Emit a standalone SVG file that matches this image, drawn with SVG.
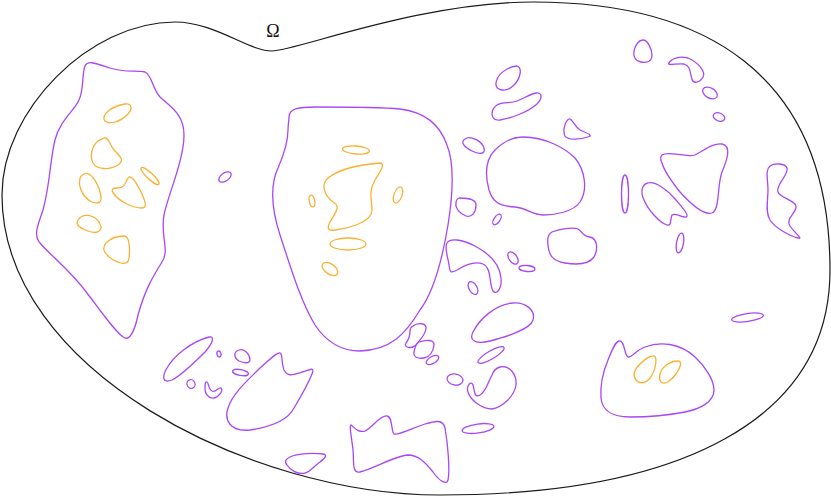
<svg xmlns="http://www.w3.org/2000/svg" width="831" height="498" viewBox="0 0 831 498">
<style>
.b{fill:none;stroke:#1a1a1a;stroke-width:1.2}
.p{fill:none;stroke:#a946f7;stroke-width:1.3}
.o{fill:none;stroke:#fbb031;stroke-width:1.3}
.t{font-family:"Liberation Serif","DejaVu Serif",serif;font-size:18px;fill:#111}
</style>
<rect width="831" height="498" fill="#fff"/>
<g id="domain">
<path class="b" d="M 272,51 C 295,51 420,2 533,2 C 700,2 830,70 830,270 C 830,420 680,495 440,495 C 250,495 2,370 2,195 C 2,110 90,22 175,22 C 215,22 248,51 272,51 Z"/>
<text class="t" x="273" y="37" text-anchor="middle">Ω</text>
</g>
<g id="left-blob">
<path class="p" d="M 85,66 C 88,60 95,63 110,68 C 125,73 135,70 145,72 C 152,75 152,88 160,97 C 172,108 184,115 184,135 C 184,160 168,195 164,215 C 160,235 170,250 162,262 C 152,278 145,290 138,315 C 135,330 130,340 125,338 C 118,336 100,310 87,293 C 70,270 50,255 40,243 C 33,235 38,225 43,210 C 50,185 50,160 55,140 C 60,120 75,110 79,100 C 84,90 82,72 85,66 Z"/>
<path class="o" d="M 105,121 C 100,115 112,106 125,104 C 133,103 132,110 128,114 C 120,122 110,125 105,121 Z"/>
<path class="o" d="M 104,138 C 108,136 110,145 114,150 C 120,156 125,160 118,165 C 110,170 97,170 93,163 C 89,155 93,145 98,141 C 101,139 102,139 104,138 Z"/>
<path class="o" d="M 84,174 C 92,170 100,188 101,197 C 102,204 95,204 90,201 C 82,196 78,185 80,179 C 80,176 82,175 84,174 Z"/>
<ellipse class="o" cx="150" cy="176" rx="12" ry="3" transform="rotate(43 150 176)"/>
<path class="o" d="M 128,178 C 131,174 136,182 140,190 C 145,200 148,208 142,208 C 133,208 120,202 114,194 C 110,189 113,188 118,188 C 124,188 125,184 128,178 Z"/>
<path class="o" d="M 78,220 C 83,212 96,215 100,224 C 104,232 95,234 88,231 C 80,228 75,225 78,220 Z"/>
<path class="o" d="M 124,236 C 130,236 130,250 129,258 C 128,266 120,264 112,259 C 103,253 102,248 106,243 C 111,238 118,236 124,236 Z"/>
</g>
<g id="small-a">
<ellipse class="p" cx="225" cy="177" rx="7" ry="4" transform="rotate(-35 225 177)"/>
</g>
<g id="middle-blob">
<path class="p" d="M 289,117 C 289,108 300,107 315,107 C 350,107 380,107 400,109 C 425,112 440,125 447,145 C 455,165 452,200 448,225 C 443,255 435,290 420,310 C 405,335 390,350 360,351 C 340,351 325,340 315,325 C 300,300 290,265 280,235 C 272,210 270,185 278,168 C 285,152 288,140 288,130 C 288,125 289,120 289,117 Z"/>
<ellipse class="o" cx="356" cy="150" rx="13.5" ry="4" transform="rotate(5 356 150)"/>
<path class="o" d="M 380,163 C 386,163 380,172 375,180 C 368,192 372,200 372,210 C 372,222 350,228 335,230 C 323,232 330,222 333,217 C 337,210 340,206 333,202 C 325,196 320,185 328,178 C 338,170 355,165 380,163 Z"/>
<ellipse class="o" cx="312" cy="201" rx="2.7" ry="6" transform="rotate(-10 312 201)"/>
<ellipse class="o" cx="398" cy="195" rx="4" ry="8.5" transform="rotate(20 398 195)"/>
<ellipse class="o" cx="348" cy="244" rx="18" ry="6"/>
<ellipse class="o" cx="330" cy="269" rx="9" ry="5" transform="rotate(35 330 269)"/>
</g>
<g id="upper-right">
<path class="p" d="M 643,40 C 648,40 652,50 652,55 C 652,62 646,63 641,62 C 635,61 633,56 634,51 C 635,45 639,40 643,40 Z"/>
<path class="p" d="M 669,63 C 672,58 680,56 688,58 C 698,62 706,72 703,77 C 700,83 693,84 692,79 C 690,74 691,66 684,64 C 678,63 666,66 669,63 Z"/>
<ellipse class="p" cx="710" cy="93" rx="8" ry="5" transform="rotate(30 710 93)"/>
<ellipse class="p" cx="719" cy="117" rx="6" ry="4" transform="rotate(20 719 117)"/>
<path class="p" d="M 517,66 C 523,68 520,80 513,86 C 505,93 495,90 496,83 C 497,75 506,67 517,66 Z"/>
<path class="p" d="M 536,93 C 542,92 543,98 537,104 C 528,112 512,118 500,120 C 490,121 490,110 497,105 C 503,101 510,104 517,101 C 525,98 530,94 536,93 Z"/>
<path class="p" d="M 569,119 C 572,118 574,126 580,130 C 586,133 594,135 588,137 C 582,139 568,141 565,136 C 562,130 566,120 569,119 Z"/>
<path class="p" d="M 465,139 C 470,135 482,141 484,148 C 486,155 478,154 472,151 C 464,147 460,142 465,139 Z"/>
<path class="p" d="M 523,137 C 545,137 565,148 575,158 C 585,170 588,190 580,202 C 573,212 555,215 543,215 C 532,215 527,208 515,207 C 500,206 493,203 489,190 C 485,175 485,160 495,150 C 503,142 512,137 523,137 Z"/>
<path class="p" d="M 460,198 C 466,198 476,199 476,205 C 476,212 472,218 466,216 C 460,214 455,208 456,203 C 456,200 458,198 460,198 Z"/>
<ellipse class="p" cx="497" cy="219.5" rx="3" ry="6" transform="rotate(35 497 219.5)"/>
<path class="p" d="M 552,232 C 560,229 572,227 578,229 C 583,232 582,236 590,237 C 598,239 598,250 594,257 C 589,264 577,265 565,263 C 553,261 549,256 548,245 C 547,238 548,234 552,232 Z"/>
<ellipse class="p" cx="625" cy="194" rx="3.5" ry="19"/>
<path class="p" d="M 662,155 C 668,150 685,158 695,155 C 705,150 712,143 722,144 C 732,146 727,160 722,172 C 717,185 720,210 712,213 C 703,216 690,203 680,192 C 672,182 664,170 662,163 C 660,159 660,157 662,155 Z"/>
<path class="p" d="M 648,183 C 655,181 668,190 676,200 C 682,207 690,216 686,217 C 682,218 675,212 672,215 C 670,219 672,226 667,225 C 660,223 648,210 644,200 C 640,192 642,184 648,183 Z"/>
<ellipse class="p" cx="680" cy="243" rx="3.5" ry="10" transform="rotate(10 680 243)"/>
<path class="p" d="M 770,166 C 774,163 785,163 787,168 C 789,175 775,185 778,192 C 780,198 795,200 796,206 C 797,213 785,218 790,226 C 794,232 804,240 798,238 C 790,236 775,228 770,220 C 765,212 768,200 768,190 C 768,180 765,170 770,166 Z"/>
</g>
<g id="center-cluster">
<ellipse class="p" cx="513" cy="258" rx="4" ry="7" transform="rotate(-35 513 258)"/>
<ellipse class="p" cx="527" cy="268.5" rx="8" ry="3" transform="rotate(5 527 268.5)"/>
<path class="p" d="M 447,243 C 450,238 462,239 475,246 C 490,254 500,265 501,278 C 502,290 496,295 493,291 C 489,285 492,268 483,264 C 475,261 465,265 457,270 C 450,274 450,272 449,265 C 448,257 444,248 447,243 Z"/>
<ellipse class="p" cx="473" cy="288" rx="4" ry="7" transform="rotate(-30 473 288)"/>
<path class="p" d="M 513,303 C 525,302 536,310 533,320 C 530,330 505,337 490,341 C 478,344 468,342 473,332 C 479,320 495,304 513,303 Z"/>
<ellipse class="p" cx="491" cy="355" rx="15" ry="4" transform="rotate(-30 491 355)"/>
<ellipse class="p" cx="455" cy="379.5" rx="8" ry="5.5" transform="rotate(10 455 379.5)"/>
<path class="p" d="M 500,367 C 510,365 517,375 516,385 C 514,398 500,408 492,409 C 482,409 470,400 468,392 C 466,386 471,380 473,385 C 475,392 474,398 480,395 C 486,392 488,382 492,375 C 494,370 496,368 500,367 Z"/>
<ellipse class="p" cx="478" cy="428.5" rx="16" ry="4.5" transform="rotate(-8 478 428.5)"/>
<path class="p" d="M 413,326 C 418,322 427,323 426,329 C 425,335 420,340 416,345 C 412,349 403,348 406,343 C 409,339 410,335 410,331 C 410,328 411,327 413,326 Z"/>
<path class="p" d="M 419,342 C 425,340 435,339 434,345 C 433,352 430,357 424,358 C 418,359 413,357 414,352 C 415,347 416,343 419,342 Z"/>
<ellipse class="p" cx="432.5" cy="360" rx="7" ry="3.5" transform="rotate(-30 432.5 360)"/>
<path class="p" d="M 351,425 C 355,428 358,433 365,431 C 372,428 380,415 387,416 C 393,417 391,432 394,434 C 398,436 415,427 425,424 C 435,421 443,419 445,428 C 448,445 450,470 448,480 C 447,485 440,482 433,472 C 425,462 418,455 408,455 C 395,456 375,468 360,472 C 352,474 354,462 353,450 C 352,440 349,425 351,425 Z"/>
</g>
<g id="lower-left">
<path class="p" d="M 209,337 C 215,336 213,343 205,352 C 195,362 182,375 172,380 C 162,384 162,376 167,368 C 173,357 190,342 209,337 Z"/>
<ellipse class="p" cx="219" cy="354" rx="2" ry="3" transform="rotate(-15 219 354)"/>
<path class="p" d="M 239,350 C 245,348 250,355 250,360 C 250,364 243,363 239,361 C 234,358 233,352 239,350 Z"/>
<ellipse class="p" cx="240.5" cy="372.5" rx="8" ry="3" transform="rotate(10 240.5 372.5)"/>
<ellipse class="p" cx="191" cy="384" rx="4" ry="4.5" transform="rotate(-20 191 384)"/>
<path class="p" d="M 207,382 C 209,383 208,389 212,391 C 216,393 218,387 221,388 C 224,390 219,397 214,398 C 208,399 205,393 205,389 C 205,385 205,381 207,382 Z"/>
<path class="p" d="M 279,353 C 283,352 281,362 284,370 C 288,378 295,374 302,372 C 310,370 315,366 312,374 C 308,384 300,398 294,408 C 288,420 270,427 250,430 C 230,432 224,420 228,408 C 233,393 248,380 260,368 C 268,361 276,353 279,353 Z"/>
<path class="p" d="M 290,457 C 298,453 315,453 323,454 C 328,455 325,458 320,462 C 314,466 310,472 305,473 C 298,475 290,470 287,465 C 284,461 286,459 290,457 Z"/>
</g>
<g id="lower-right">
<path class="p" d="M 619,341 C 625,340 624,355 628,357 C 632,358 636,350 645,347 C 660,341 680,343 695,357 C 705,366 714,380 714,390 C 714,402 700,409 685,412 C 665,416 645,417 630,417 C 612,417 602,410 601,398 C 600,385 603,372 608,360 C 612,350 615,342 619,341 Z"/>
<path class="o" d="M 653,356 C 658,355 656,368 652,375 C 648,383 640,385 636,380 C 632,375 634,370 640,364 C 645,359 649,356 653,356 Z"/>
<path class="o" d="M 678,361 C 683,361 680,368 676,374 C 671,381 665,385 661,382 C 658,378 660,370 665,366 C 670,362 674,361 678,361 Z"/>
<ellipse class="p" cx="747.5" cy="317.5" rx="16" ry="4" transform="rotate(-8 747.5 317.5)"/>
</g>
</svg>
